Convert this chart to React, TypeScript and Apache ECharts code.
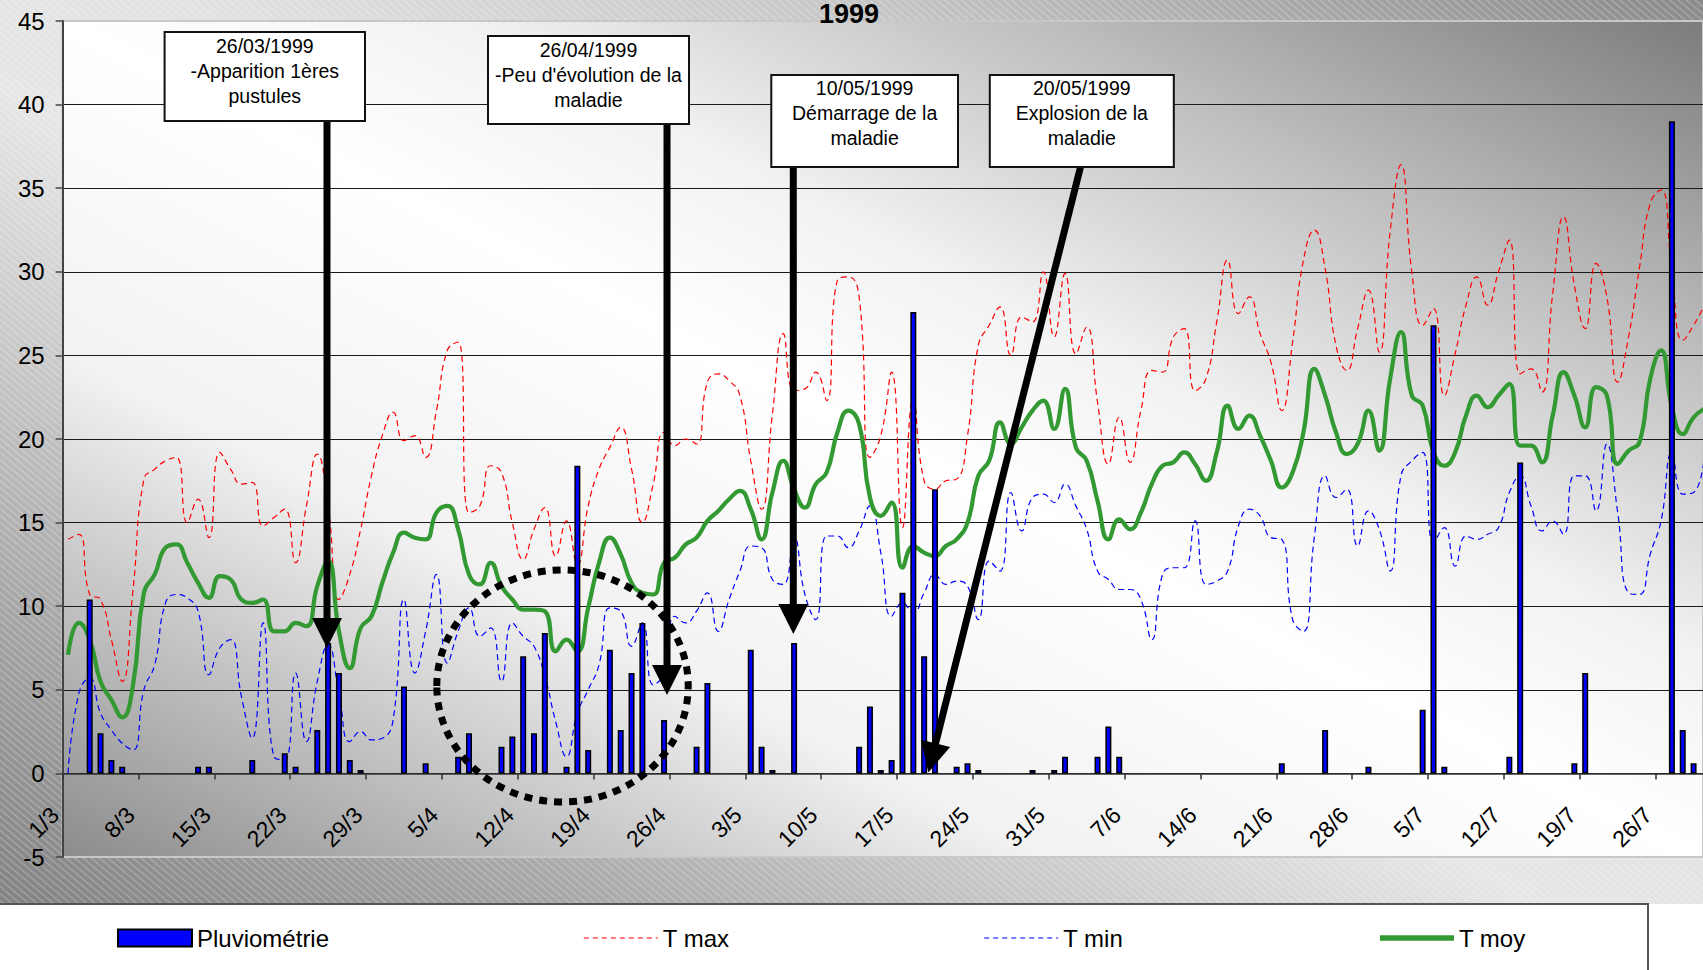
import React, { useEffect, useRef } from 'react';
import * as echarts from 'echarts';

const W = 1703;
const H = 970;
const FONT = 'Liberation Sans, Arial, Helvetica, sans-serif';

// Tick labels (every 7 days starting 1 March 1999)
const tickLabels = ['1/3', '8/3', '15/3', '22/3', '29/3', '5/4', '12/4', '19/4', '26/4', '3/5', '10/5', '17/5', '24/5', '31/5', '7/6', '14/6', '21/6', '28/6', '5/7', '12/7', '19/7', '26/7'];

// Daily values, day 0 = 1/3/1999
const tMax = [
  14.0, 14.3, 10.7, 10.4, 8.0, 5.5, 11.0, 17.6, 18.2, 18.7,
  18.9, 15.0, 16.4, 14.1, 19.2, 18.2, 17.3, 17.4, 14.8, 15.3,
  15.8, 12.6, 16.0, 19.1, 16.0, 10.4, 11.9, 14.6, 17.8, 20.2,
  21.6, 19.9, 20.2, 18.9, 21.7, 25.3, 25.8, 15.6, 16.0, 18.4,
  18.0, 15.0, 12.8, 14.6, 15.9, 13.0, 15.1, 12.5, 16.0, 18.2,
  19.5, 20.7, 18.2, 15.0, 17.3, 20.4, 19.6, 20.0, 19.7, 23.4,
  23.9, 23.5, 22.6, 18.7, 15.8, 21.5, 26.3, 22.9, 23.0, 24.0,
  22.3, 29.5, 29.7, 28.5, 18.9, 20.2, 24.0, 14.7, 22.4, 17.5,
  17.0, 17.5, 17.6, 20.2, 25.6, 26.8, 27.9, 25.0, 27.3, 27.0,
  30.0, 26.1, 29.9, 25.1, 26.7, 22.2, 18.5, 21.3, 18.6, 21.7,
  24.1, 24.0, 26.1, 26.6, 22.9, 23.6, 27.0, 30.7, 27.5, 28.5,
  26.3, 24.6, 21.7, 25.8, 30.7, 32.5, 30.2, 25.6, 24.1, 26.6,
  28.9, 25.2, 32.4, 36.4, 30.0, 26.8, 27.8, 22.6, 25.1, 28.0,
  29.7, 28.0, 30.0, 31.9, 23.9, 24.2, 22.8, 28.7, 33.3, 29.2,
  26.6, 30.5, 28.5, 23.4, 26.1, 30.2, 34.1, 34.9, 30.0, 25.9,
  26.8, 28.0,
];

const tMin = [
  0.0, 4.8, 5.7, 3.6, 2.6, 1.8, 1.4, 5.0, 6.5, 10.2,
  10.7, 10.5, 9.7, 5.9, 7.5, 8.0, 4.6, 2.1, 9.0, 1.0,
  0.8, 6.0, 1.9, 5.5, 7.7, 4.8, 1.9, 2.5, 2.0, 2.1,
  3.2, 10.4, 6.0, 8.5, 11.9, 6.6, 8.5, 9.9, 8.2, 8.7,
  5.5, 9.0, 8.2, 7.6, 5.8, 3.1, 1.0, 3.6, 5.0, 6.5,
  9.9, 9.7, 7.6, 9.0, 5.3, 6.0, 9.4, 9.0, 9.7, 10.8,
  8.5, 10.4, 12.1, 13.6, 13.5, 11.6, 11.3, 14.1, 10.7, 9.2,
  14.2, 14.2, 13.5, 14.5, 16.0, 13.2, 9.4, 10.2, 9.6, 10.8,
  11.9, 11.3, 11.5, 11.2, 9.2, 12.7, 12.1, 16.8, 14.5, 16.5,
  16.7, 16.2, 17.3, 16.0, 14.6, 12.1, 11.6, 11.0, 11.0, 10.4,
  8.0, 11.9, 12.3, 12.3, 15.1, 11.3, 11.5, 12.1, 14.8, 15.8,
  15.4, 14.1, 14.0, 9.2, 8.5, 14.1, 17.8, 16.5, 17.0, 13.6,
  15.7, 14.6, 12.1, 17.8, 18.7, 19.2, 13.8, 14.7, 12.4, 14.2,
  14.0, 14.3, 14.7, 16.8, 17.8, 16.0, 14.5, 15.1, 14.3, 17.8,
  17.8, 15.7, 19.7, 15.6, 10.8, 10.7, 13.1, 15.1, 19.2, 16.7,
  16.8, 19.0,
];

const tMoy = [
  7.1, 9.0, 8.0, 5.5, 4.4, 3.35, 5.3, 10.8, 11.9, 13.5,
  13.7, 12.6, 11.4, 10.5, 11.8, 11.6, 10.4, 10.2, 10.4, 8.5,
  8.5, 9.0, 8.8, 11.2, 12.7, 8.5, 6.3, 8.7, 9.4, 11.4,
  13.2, 14.4, 14.1, 14.0, 15.6, 16.0, 14.6, 11.9, 11.3, 12.6,
  11.2, 10.4, 9.8, 9.8, 9.7, 7.3, 8.0, 7.3, 9.9, 12.6,
  14.1, 13.1, 11.4, 10.8, 10.7, 12.6, 12.9, 13.7, 14.1, 15.1,
  15.7, 16.4, 16.9, 15.8, 14.0, 16.8, 18.7, 17.0, 15.9, 17.3,
  18.0, 20.4, 21.7, 20.9, 16.5, 15.4, 16.2, 12.3, 13.6, 13.2,
  13.0, 13.6, 14.0, 15.0, 17.8, 18.7, 21.0, 19.7, 20.7, 21.7,
  22.3, 20.6, 23.0, 19.5, 18.7, 16.3, 14.0, 15.2, 14.6, 15.6,
  17.3, 18.4, 18.6, 19.2, 18.5, 17.5, 19.2, 22.0, 20.6, 21.4,
  20.2, 18.7, 17.1, 18.0, 20.4, 24.2, 22.6, 20.4, 19.1, 19.7,
  21.7, 19.3, 23.6, 26.4, 22.6, 22.0, 19.2, 18.4, 19.2, 21.4,
  22.6, 21.9, 22.6, 23.3, 19.6, 19.6, 18.6, 21.4, 24.0, 22.6,
  20.7, 23.1, 22.6, 18.5, 19.3, 19.8, 23.6, 25.3, 21.9, 20.3,
  21.3, 21.8,
];

const rain = [
  0, 0, 10.4, 2.4, 0.8, 0.4, 0, 0, 0, 0,
  0, 0, 0.4, 0.4, 0, 0, 0, 0.8, 0, 0,
  1.2, 0.4, 0, 2.6, 7.8, 6.0, 0.8, 0.2, 0, 0,
  0, 5.2, 0, 0.6, 0, 0, 1.0, 2.4, 0, 0,
  1.6, 2.2, 7.0, 2.4, 8.4, 0, 0.4, 18.4, 1.4, 0,
  7.4, 2.6, 6.0, 9.0, 0, 3.2, 0, 0, 1.6, 5.4,
  0, 0, 0, 7.4, 1.6, 0.2, 0, 7.8, 0, 0,
  0, 0, 0, 1.6, 4.0, 0.2, 0.8, 10.8, 27.6, 7.0,
  17.0, 0, 0.4, 0.6, 0.2, 0, 0, 0, 0, 0.2,
  0, 0.2, 1.0, 0, 0, 1.0, 2.8, 1.0, 0, 0,
  0, 0, 0, 0, 0, 0, 0, 0, 0, 0,
  0, 0, 0.6, 0, 0, 0, 2.6, 0, 0, 0,
  0.4, 0, 0, 0, 0, 3.8, 26.8, 0.4, 0, 0,
  0, 0, 0, 1.0, 18.6, 0, 0, 0, 0, 0.6,
  6.0, 0, 0, 0, 0, 0, 0, 0, 39.0, 2.6,
  0.6, 0,
];

const seriesNames = ['Pluviométrie', 'T max', 'T min', 'T moy'];
const titleText = '1999';

const noteTexts = [
  ['26/03/1999', '-Apparition 1ères', 'pustules'],
  ['26/04/1999', "-Peu d'évolution de la", 'maladie'],
  ['10/05/1999', 'Démarrage de la', 'maladie'],
  ['20/05/1999', 'Explosion de la', 'maladie'],
];

// Layout (pixels)
const GRID_LEFT = 62.6;
const GRID_TOP = 21;
const GRID_BOTTOM_Y = 857;
const LEGEND_TOP_Y = 904;
const Y_MIN = -5;
const Y_MAX = 45;

const boxes = [
  { x: 164.6, y: 32, w: 200.4, h: 89, line0: 46 },
  { x: 488, y: 36, w: 201, h: 88, line0: 49.5 },
  { x: 771.3, y: 75, w: 186.7, h: 92, line0: 88.3 },
  { x: 989.8, y: 75, w: 184, h: 92, line0: 88.3 },
];

// arrows: start point, tip
const arrows = [
  { x1: 327, y1: 121, x2: 327, y2: 648 },
  { x1: 667, y1: 124, x2: 667, y2: 695 },
  { x1: 793.3, y1: 167, x2: 793.3, y2: 634 },
  { x1: 1080.5, y1: 167, x2: 928.3, y2: 772.4 },
];

function arrowElements(a: { x1: number; y1: number; x2: number; y2: number }) {
  const dx = a.x2 - a.x1;
  const dy = a.y2 - a.y1;
  const len = Math.sqrt(dx * dx + dy * dy);
  const ux = dx / len;
  const uy = dy / len;
  const headLen = 30;
  const headHalf = 15;
  const bx = a.x2 - ux * headLen;
  const by = a.y2 - uy * headLen;
  const px = -uy;
  const py = ux;
  return [
    {
      type: 'line',
      z: 100,
      shape: { x1: a.x1, y1: a.y1, x2: bx + ux * 2, y2: by + uy * 2 },
      style: { stroke: '#000', lineWidth: 7 },
    },
    {
      type: 'polygon',
      z: 101,
      shape: {
        points: [
          [bx + px * headHalf, by + py * headHalf],
          [bx - px * headHalf, by - py * headHalf],
          [a.x2, a.y2],
        ],
      },
      style: { fill: '#000' },
    },
  ];
}

// Diagonal hatch texture of the chart frame
function hatchLines() {
  const out: any[] = [];
  const slope = 0.84;
  const step = 7;
  for (let c = -slope * W; c < LEGEND_TOP_Y; c += step) {
    const xa = Math.max(0, -c / slope);
    const xb = Math.min(W, (LEGEND_TOP_Y - c) / slope);
    if (xb <= xa) continue;
    out.push({
      type: 'line', z: -95, silent: true,
      shape: { x1: xa, y1: slope * xa + c, x2: xb, y2: slope * xb + c },
      style: { stroke: 'rgba(255,255,255,0.22)', lineWidth: 1.6 },
    });
  }
  return out;
}

function buildOption() {
  const xMax = (W - GRID_LEFT) / 10.837;
  const plotH = GRID_BOTTOM_Y - GRID_TOP;
  const zeroOffset = ((0 - Y_MIN) / (Y_MAX - Y_MIN)) * plotH;

  const outerGrad = new echarts.graphic.LinearGradient(477, 1157, 1226, -253, [
    { offset: 0, color: '#828282' },
    { offset: 0.15, color: '#a2a2a2' },
    { offset: 0.3, color: '#c6c6c6' },
    { offset: 0.45, color: '#e6e6e6' },
    { offset: 0.55, color: '#e2e2e2' },
    { offset: 0.75, color: '#c6c6c6' },
    { offset: 1, color: '#8a8a8a' },
  ], true);

  const plotGrad = new echarts.graphic.LinearGradient(544.5, 1102.7, 1221.1, -224.7, [
    { offset: 0, color: '#8c8c8c' },
    { offset: 0.3, color: '#f2f2f2' },
    { offset: 0.5, color: '#ffffff' },
    { offset: 0.62, color: '#f2f2f2' },
    { offset: 0.8, color: '#bdbdbd' },
    { offset: 1, color: '#7c7c7c' },
  ], true);

  const graphics: any[] = [
    {
      type: 'rect', z: -100, silent: true,
      shape: { x: 0, y: 0, width: W, height: LEGEND_TOP_Y },
      style: { fill: outerGrad },
    },
    ...hatchLines(),
    {
      type: 'rect', z: -90, silent: true,
      shape: { x: GRID_LEFT, y: GRID_TOP, width: W - GRID_LEFT, height: plotH },
      style: { fill: plotGrad },
    },
    {
      type: 'rect', z: -80, silent: true,
      shape: { x: -3, y: LEGEND_TOP_Y, width: 1651, height: 80 },
      style: { fill: '#ffffff', stroke: '#555555', lineWidth: 2 },
    },
    {
      type: 'text', z: 100, x: 849, y: 14,
      style: { text: titleText, fontSize: 27, fontWeight: 'bold', fontFamily: FONT, fill: '#000', align: 'center', verticalAlign: 'middle' },
    },
    {
      type: 'ellipse', z: 99,
      shape: { cx: 562.5, cy: 686, rx: 125.7, ry: 116 },
      style: { fill: 'none', stroke: '#000', lineWidth: 7, lineDash: [8, 7] },
    },
  ];

  boxes.forEach((b, k) => {
    graphics.push({
      type: 'rect', z: 102,
      shape: { x: b.x, y: b.y, width: b.w, height: b.h },
      style: { fill: '#ffffff', stroke: '#111111', lineWidth: 2 },
    });
    noteTexts[k].forEach((t, j) => {
      graphics.push({
        type: 'text', z: 103, x: b.x + b.w / 2, y: b.line0 + j * 25,
        style: { text: t, fontSize: 19.5, fontFamily: FONT, fill: '#000', align: 'center', verticalAlign: 'middle' },
      });
    });
  });
  arrows.forEach((a) => graphics.push(...arrowElements(a)));

  const toPts = (arr: number[]) => arr.map((v, i) => [i + 0.5, v]);
  const rainPts = rain.map((v, i) => [i + 0.5, v]).filter((d) => d[1] > 0);

  const splitColors = ['#c8c8c8', '#1a1a1a', '#1a1a1a', '#1a1a1a', '#1a1a1a', '#1a1a1a', '#1a1a1a', '#1a1a1a', '#1a1a1a', '#1a1a1a', '#c8c8c8'];
  const hiddenSymbol = { opacity: 0 };

  return {
    animation: false,
    backgroundColor: '#ffffff',
    textStyle: { fontFamily: FONT },
    grid: {
      left: GRID_LEFT, top: GRID_TOP, right: 0, bottom: H - GRID_BOTTOM_Y,
      show: true, borderColor: '#c8c8c8', borderWidth: 2, backgroundColor: 'rgba(0,0,0,0)',
    },
    legend: {
      left: 117, top: 926, padding: 0,
      itemWidth: 74, itemHeight: 17, itemGap: 254,
      selectedMode: false,
      textStyle: { fontSize: 24, color: '#000', fontFamily: FONT },
      data: [
        { name: seriesNames[0], icon: 'rect' },
        { name: seriesNames[1], itemStyle: hiddenSymbol, lineStyle: { color: '#ff5050', width: 1.5, type: [5, 4] } },
        { name: seriesNames[2], itemStyle: hiddenSymbol, lineStyle: { color: '#5050ff', width: 1.5, type: [5, 4] } },
        { name: seriesNames[3], itemStyle: hiddenSymbol, lineStyle: { color: '#339933', width: 5.5 } },
      ],
    },
    xAxis: {
      type: 'value', min: 0, max: xMax, interval: 7,
      position: 'bottom', offset: -zeroOffset,
      axisLine: { show: true, onZero: false, lineStyle: { color: '#333', width: 1.5 } },
      axisTick: { show: true, length: 6, lineStyle: { color: '#333', width: 1.5 } },
      splitLine: { show: false },
      axisLabel: {
        rotate: 45, margin: 30, padding: [0, 11, 0, 0],
        fontSize: 23, color: '#000', fontFamily: FONT,
        showMinLabel: true, showMaxLabel: false,
        formatter: (v: number) => {
          const k = Math.round(v / 7);
          return Math.abs(v - k * 7) < 1e-6 ? (tickLabels[k] ?? '') : '';
        },
      },
    },
    yAxis: {
      type: 'value', min: Y_MIN, max: Y_MAX, interval: 5,
      axisLine: { show: true, onZero: false, lineStyle: { color: '#444', width: 2 } },
      axisTick: { show: true, length: 7, lineStyle: { color: '#444', width: 1.5 } },
      axisLabel: { fontSize: 24, color: '#000', fontFamily: FONT, margin: 18 },
      splitLine: { show: true, lineStyle: { color: splitColors, width: 1 } },
    },
    series: [
      {
        name: seriesNames[0], type: 'bar', data: rainPts, barWidth: 6, z: 4,
        itemStyle: { color: '#0000ff', borderColor: '#000000', borderWidth: 1.5 },
      },
      {
        name: seriesNames[1], type: 'line', data: toPts(tMax), smooth: 0.5, symbol: 'none', z: 2,
        lineStyle: { color: '#ff0000', width: 1.2, type: [6, 4] }, itemStyle: { color: '#ff0000' },
      },
      {
        name: seriesNames[2], type: 'line', data: toPts(tMin), smooth: 0.5, symbol: 'none', z: 2,
        lineStyle: { color: '#0000ff', width: 1.2, type: [6, 4] }, itemStyle: { color: '#0000ff' },
      },
      {
        name: seriesNames[3], type: 'line', data: toPts(tMoy), smooth: 0.5, symbol: 'none', z: 3,
        lineStyle: { color: '#339933', width: 4.2 }, itemStyle: { color: '#339933' },
      },
    ],
    graphic: { elements: graphics },
  };
}

export default function App() {
  const ref = useRef<HTMLDivElement>(null);
  useEffect(() => {
    document.body.style.margin = '0';
    const chart = echarts.init(ref.current as HTMLDivElement, null, { renderer: 'svg', width: W, height: H });
    chart.setOption(buildOption() as any);
    return () => chart.dispose();
  }, []);
  return <div ref={ref} style={{ position: 'absolute', left: 0, top: 0, width: W, height: H }} />;
}
